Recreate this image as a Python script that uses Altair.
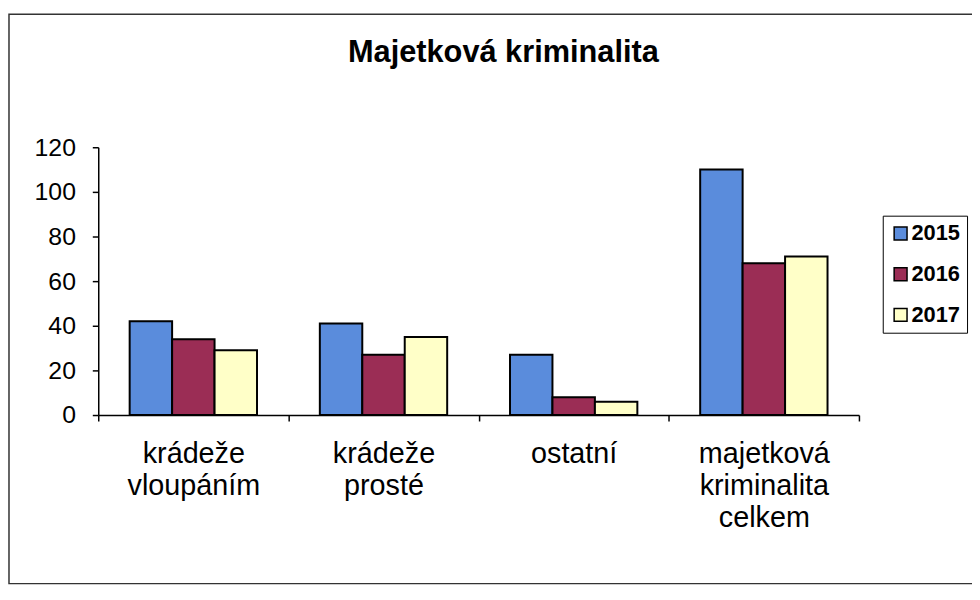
import altair as alt
import pandas as pd

categories = ["krádeže vloupáním", "krádeže prosté", "ostatní", "majetková kriminalita celkem"]
years = ["2015", "2016", "2017"]
values_2015 = [42, 41, 27, 110]
values_2016 = [34, 27, 8, 68]
values_2017 = [29, 35, 6, 71]
colors = ["#5a8cdc", "#9b2d55", "#ffffc8"]
y_ticks = [0, 20, 40, 60, 80, 100, 120]

rows = []
for yr, vals in zip(years, [values_2015, values_2016, values_2017]):
    for c, v in zip(categories, vals):
        rows.append({"kategorie": c, "rok": yr, "hodnota": v})
df = pd.DataFrame(rows)

W, H = 767, 270
PAD_L, PAD_T = 91, 138
TOTAL_W, TOTAL_H = 972, 580
FONT = "Liberation Sans"

bars = alt.Chart(df).mark_bar(stroke="black", strokeWidth=2).encode(
    x=alt.X(
        "kategorie:N",
        sort=categories,
        scale=alt.Scale(paddingInner=0, paddingOuter=0),
        axis=alt.Axis(
            title=None,
            labelAngle=0,
            labelExpr="split(datum.label, ' ')",
            tickBand="extent",
            labelFontSize=29,
            labelLineHeight=32,
            labelPadding=19,
            tickSize=6,
        ),
    ),
    xOffset=alt.XOffset("rok:N", sort=years, scale=alt.Scale(paddingInner=0, paddingOuter=0.74)),
    y=alt.Y(
        "hodnota:Q",
        scale=alt.Scale(domain=[0, 120], nice=False),
        axis=alt.Axis(
            values=y_ticks,
            title=None,
            grid=False,
            labelFontSize=25,
            labelPadding=17,
            tickSize=6,
        ),
    ),
    color=alt.Color(
        "rok:N",
        sort=years,
        scale=alt.Scale(domain=years, range=colors),
        legend=alt.Legend(
            title=None,
            orient="none",
            legendX=791,
            legendY=69,
        ),
    ),
)

frame_df = pd.DataFrame({"f": [0]})
frame = alt.Chart(frame_df).mark_rect(fillOpacity=0, stroke="#333333", strokeWidth=1.5).encode(
    x=alt.value(-PAD_L + 1),
    x2=alt.value(TOTAL_W),
    y=alt.value(-PAD_T + 4),
    y2=alt.value(TOTAL_H - PAD_T - 2),
)

chart = (
    alt.layer(frame, bars)
    .properties(
        width=W,
        height=H,
        autosize=alt.AutoSizeParams(type="none"),
        padding={"left": PAD_L, "top": PAD_T, "right": TOTAL_W - PAD_L - W, "bottom": TOTAL_H - PAD_T - H},
        title=alt.Title(
            "Majetková kriminalita",
            font=FONT,
            fontSize=31,
            fontWeight="bold",
            color="black",
            anchor="middle",
            dx=25,
            dy=80,
            offset=0,
            baseline="alphabetic",
        ),
        background="white",
    )
    .configure_view(strokeWidth=0)
    .configure_axis(
        labelFont=FONT,
        labelColor="black",
        domainColor="black",
        tickColor="black",
        domainWidth=1.5,
        tickWidth=1.5,
    )
    .configure_legend(
        labelFont=FONT,
        labelFontSize=22,
        labelFontWeight="bold",
        labelColor="black",
        symbolType="square",
        symbolSize=169,
        symbolStrokeColor="black",
        symbolStrokeWidth=1.5,
        strokeColor="black",
        fillColor="white",
        padding=7,
        rowPadding=19,
        labelOffset=0,
    )
)

chart.save("out.html", embed_options={"renderer": "svg", "actions": False})
